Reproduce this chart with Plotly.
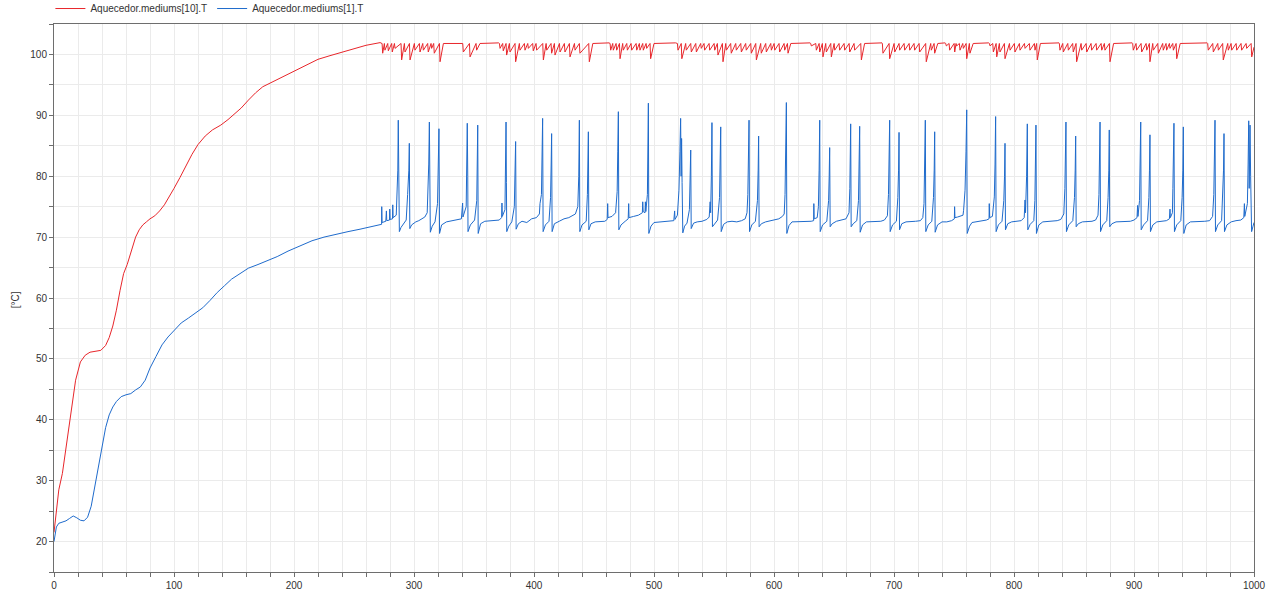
import plotly.graph_objects as go

# ---------------- data ----------------
# Warm-up phase (t in s, T in degC)
red_warm_t = [0, 2, 4, 7, 10, 14, 18, 22, 26, 30, 35, 39, 43, 46, 49, 52, 55, 58, 61, 65, 68, 71, 74, 77, 80, 84, 88, 92, 96, 100,
              105, 110, 115, 120, 126, 132, 139, 145, 150, 156, 162, 168, 174, 180, 186, 193, 200, 210, 220, 230, 240, 250, 260, 272]
red_warm_T = [21.5, 25.0, 28.5, 31.2, 35.5, 41.5, 46.5, 49.5, 50.6, 51.1, 51.3, 51.4, 52.2, 53.5, 55.4, 58.0, 61.2, 64.0, 65.5, 68.2,
              70.0, 71.2, 72.0, 72.5, 73.0, 73.5, 74.3, 75.3, 76.6, 78.0, 79.8, 81.8, 83.6, 85.2, 86.6, 87.6, 88.4, 89.3, 90.1, 91.2,
              92.5, 93.7, 94.7, 95.3, 95.9, 96.6, 97.3, 98.3, 99.2, 99.8, 100.4, 101.0, 101.5, 101.95]

blue_warm_t = [0, 1, 2, 4, 7, 10, 13, 16, 19, 22, 25, 28, 31, 34, 37, 40, 43, 46, 49, 52, 56, 60, 64, 68, 72, 76, 80, 85, 90, 95,
               100, 106, 112, 118, 124, 130, 136, 142, 148, 155, 162, 170, 178, 186, 195, 205, 215, 225, 235, 245, 255, 265, 272]
blue_warm_T = [20.0, 21.5, 22.4, 23.0, 23.2, 23.4, 23.8, 24.2, 23.9, 23.5, 23.4, 24.0, 25.8, 29.0, 32.5, 35.8, 38.7, 40.8, 42.1, 43.0,
               43.8, 44.1, 44.3, 44.9, 45.4, 46.5, 48.5, 50.4, 52.3, 53.6, 54.7, 55.9, 56.7, 57.6, 58.4, 59.6, 60.9, 62.0, 63.1, 64.0,
               64.9, 65.5, 66.1, 66.8, 67.7, 68.5, 69.4, 70.0, 70.5, 70.9, 71.3, 71.7, 72.0]

# Cycling phase, blue (mediums[1]) in blocks
blue_b1_t = [272.0, 273.0, 273.1, 273.4, 276.5, 277.0, 277.3, 279.6, 279.8, 280.1, 282.1, 282.3, 282.6, 285.2, 285.9, 286.5, 286.9, 287.2, 287.4, 287.8, 289.2, 291.0, 293.5, 294.7, 295.7, 296.1, 296.5, 298.0]
blue_b1_T = [72.0, 72.1, 75.0, 72.4, 72.6, 74.3, 72.7, 72.8, 74.6, 72.9, 73.0, 75.3, 73.2, 73.6, 76.5, 81.0, 89.2, 80.5, 84.0, 70.9, 71.6, 72.2, 72.8, 77.0, 81.0, 85.4, 71.4, 72.0]
blue_b2_t = [301.5, 304.0, 306.5, 309.0, 311.0, 311.6, 312.3, 312.8, 313.2, 313.6, 315.2, 317.5, 319.6, 320.3, 320.8, 321.3, 323.0]
blue_b2_T = [72.5, 72.7, 73.0, 73.3, 74.0, 76.5, 82.0, 88.9, 81.0, 70.8, 71.8, 72.5, 75.5, 81.0, 87.8, 70.6, 72.0]
blue_b3_t = [327.0, 332.0, 336.0, 339.5, 340.5, 340.8, 343.5, 344.0, 344.4, 344.8, 345.0, 347.0, 350.5, 352.3, 352.8, 353.1, 353.5, 355.5]
blue_b3_T = [72.5, 72.7, 72.8, 73.0, 75.6, 73.3, 75.0, 80.0, 88.7, 80.0, 70.9, 72.0, 72.8, 76.0, 82.0, 88.4, 70.6, 72.2]
blue_b4_t = [359.0, 363.0, 367.0, 371.0, 373.0, 373.3, 373.6, 375.8, 376.3, 376.7, 377.0, 377.3, 379.0, 381.5, 383.6, 384.2, 384.7, 385.1, 387.0]
blue_b4_T = [72.6, 72.7, 72.7, 72.8, 73.2, 75.6, 73.4, 74.5, 80.0, 88.9, 79.0, 70.9, 71.8, 72.5, 75.0, 80.0, 85.7, 71.3, 72.2]
blue_b5_t = [390.0, 394.0, 398.0, 402.0, 404.5, 405.0, 406.2, 406.8, 407.2, 407.6, 409.5, 412.5, 413.8, 414.3, 414.7, 415.1, 417.0]
blue_b5_T = [72.6, 72.4, 73.0, 73.2, 73.8, 75.5, 77.0, 83.0, 89.5, 70.9, 72.0, 72.6, 76.5, 82.0, 87.0, 70.9, 72.2]
blue_b6_t = [421.0, 425.0, 429.0, 432.0, 434.5, 436.5, 437.3, 437.8, 438.2, 440.0, 443.5, 444.5, 444.9, 445.3, 445.7, 447.5]
blue_b6_T = [72.6, 73.0, 73.2, 73.6, 73.8, 75.0, 80.0, 89.2, 70.9, 72.0, 72.6, 77.0, 82.0, 87.3, 71.2, 72.2]
blue_b7_t = [451.0, 455.0, 459.0, 461.0, 461.4, 461.7, 465.0, 468.0, 469.3, 469.8, 470.3, 470.7, 472.5, 476.0, 478.5, 478.9, 479.2, 483.0, 487.0, 490.3,
             490.6, 491.0, 492.5, 492.8, 493.2, 494.5, 495.0, 495.3, 495.7, 497.5, 500.0]
blue_b7_T = [72.5, 72.5, 72.6, 72.9, 75.5, 73.2, 73.4, 74.0, 77.5, 84.0, 90.6, 71.2, 72.0, 72.6, 73.0, 75.5, 73.2, 73.4, 73.6, 74.0,
             75.8, 74.2, 74.0, 75.8, 74.2, 77.0, 84.0, 92.0, 70.6, 71.8, 72.4]
blue_b8_t = [504.0, 508.0, 512.0, 516.5, 517.2, 517.5, 519.5, 520.8, 521.6, 522.2, 522.6, 523.0, 523.4, 524.0, 525.5, 527.5, 529.5, 530.1, 530.6, 531.0, 533.0]
blue_b8_T = [72.5, 72.6, 72.6, 72.7, 74.3, 72.9, 73.6, 77.7, 84.0, 89.5, 80.0, 86.2, 79.0, 70.7, 71.8, 72.3, 74.5, 79.0, 84.3, 71.4, 72.3]
blue_b9_t = [536.0, 540.0, 544.0, 546.0, 546.8, 547.2, 547.8, 548.3, 548.7, 550.5, 553.0, 554.6, 555.2, 555.6, 556.0, 558.0]
blue_b9_T = [72.5, 72.6, 72.9, 73.3, 75.8, 74.0, 80.0, 88.8, 71.7, 72.2, 72.8, 76.5, 82.0, 88.1, 70.9, 72.1]
blue_b10_t = [561.0, 565.0, 569.0, 573.0, 576.0, 577.5, 578.2, 578.8, 579.2, 579.6, 581.5, 584.5, 586.2, 586.8, 587.2, 587.6, 589.5]
blue_b10_T = [72.5, 72.6, 72.5, 72.7, 73.0, 74.0, 77.0, 83.0, 89.2, 70.9, 72.0, 72.6, 76.0, 81.0, 86.6, 71.7, 72.2]
blue_b11_t = [593.0, 597.0, 601.0, 604.0, 607.0, 608.5, 609.2, 609.8, 610.3, 610.7, 612.5, 615.0]
blue_b11_T = [72.5, 72.7, 72.8, 73.0, 73.4, 73.8, 77.0, 84.0, 92.1, 70.6, 71.9, 72.5]
blue_b12_t = [619.0, 623.0, 627.0, 631.0, 633.0, 633.2, 633.5, 636.0, 637.0, 637.6, 638.1, 638.5, 640.5, 644.0, 645.5, 646.0, 646.4, 646.8, 648.5]
blue_b12_T = [72.5, 72.5, 72.6, 72.6, 72.7, 75.5, 73.0, 73.2, 75.0, 81.0, 89.2, 70.9, 72.0, 72.6, 76.0, 80.0, 84.7, 71.7, 72.2]
blue_b13_t = [652.0, 656.0, 660.0, 662.5, 663.2, 663.9, 664.3, 666.0, 669.0, 670.4, 671.0, 671.4, 671.8, 673.8]
blue_b13_T = [72.6, 72.8, 73.0, 74.0, 78.0, 88.6, 71.7, 72.2, 72.7, 76.0, 81.0, 88.2, 70.8, 72.0]
blue_b14_t = [677.0, 681.0, 685.0, 689.0, 692.0, 694.5, 695.4, 695.9, 696.4, 696.8, 698.8, 702.0, 703.2, 703.8, 704.2, 704.6, 706.5]
blue_b14_T = [72.5, 72.5, 72.6, 72.6, 72.8, 73.5, 77.0, 83.0, 89.2, 70.9, 72.0, 72.6, 76.5, 81.0, 87.2, 71.2, 72.2]
blue_b15_t = [710.0, 714.0, 718.0, 722.0, 724.0, 725.0, 725.6, 726.1, 726.5, 728.5, 731.5, 732.9, 733.5, 733.9, 734.3, 736.3]
blue_b15_T = [72.5, 72.5, 72.6, 72.7, 73.2, 75.5, 82.0, 89.2, 70.9, 72.0, 72.6, 76.5, 81.0, 87.3, 70.8, 72.0]
blue_b16_t = [740.0, 744.0, 748.0, 750.3, 750.5, 750.8, 753.0, 755.0, 757.5, 758.0, 759.2, 760.0, 760.6, 761.0, 763.0, 765.0]
blue_b16_T = [72.5, 72.5, 72.7, 73.0, 75.0, 73.2, 73.3, 73.4, 73.6, 74.4, 77.7, 84.0, 90.9, 70.6, 71.8, 72.4]
blue_b17_t = [769.0, 773.0, 777.0, 779.2, 779.4, 779.7, 782.0, 783.6, 784.2, 784.7, 785.1, 787.0, 790.0, 791.5, 792.1, 792.5, 792.9, 794.8]
blue_b17_T = [72.5, 72.6, 72.8, 73.0, 75.5, 73.2, 73.4, 76.6, 82.0, 89.8, 70.9, 72.0, 72.6, 76.0, 80.0, 85.4, 71.2, 72.2]
blue_b18_t = [798.0, 802.0, 806.0, 808.5, 809.2, 809.6, 810.5, 811.1, 811.5, 813.5, 816.5, 817.4, 817.9, 818.3, 818.7, 820.7]
blue_b18_T = [72.5, 72.6, 72.7, 73.2, 76.1, 74.0, 80.0, 88.6, 71.2, 72.1, 72.7, 76.0, 82.0, 88.4, 70.6, 72.0]
blue_b19_t = [824.0, 828.0, 832.0, 836.0, 839.0, 841.5, 842.4, 842.9, 843.3, 843.7, 845.6, 849.0, 850.4, 851.0, 851.4, 851.8, 853.6]
blue_b19_T = [72.5, 72.6, 72.6, 72.7, 72.9, 73.8, 78.0, 83.0, 88.9, 70.9, 72.0, 72.7, 76.5, 81.0, 86.6, 71.7, 72.2]
blue_b20_t = [857.0, 861.0, 865.0, 868.0, 870.0, 870.8, 871.3, 871.7, 872.1, 874.0, 877.3, 878.4, 879.0, 879.4, 879.8, 881.6]
blue_b20_T = [72.5, 72.6, 72.6, 72.8, 73.6, 77.0, 83.0, 88.9, 70.9, 72.0, 72.7, 76.5, 81.0, 87.6, 71.7, 72.2]
blue_b21_t = [885.0, 889.0, 893.0, 897.0, 900.0, 902.5, 903.0, 903.3, 904.6, 905.1, 905.6, 906.0, 908.0, 911.3, 912.4, 912.9, 913.3, 913.7, 915.7]
blue_b21_T = [72.5, 72.5, 72.6, 72.6, 72.8, 73.2, 75.2, 73.4, 76.0, 82.0, 88.9, 71.2, 72.0, 72.7, 76.5, 81.0, 86.8, 70.9, 72.0]
blue_b22_t = [919.0, 923.0, 927.0, 929.5, 930.0, 930.3, 932.0, 932.4, 932.9, 933.3, 933.7, 935.6, 939.0, 940.1, 940.7, 941.1, 941.5, 943.5]
blue_b22_T = [72.5, 72.6, 72.7, 73.0, 74.6, 73.2, 74.0, 78.0, 83.0, 88.7, 70.9, 72.0, 72.7, 76.5, 81.0, 88.1, 70.6, 72.0]
blue_b23_t = [947.0, 951.0, 955.0, 959.0, 963.0, 965.5, 966.5, 967.0, 967.5, 967.9, 969.8, 973.0, 974.0, 974.6, 975.0, 975.4, 977.4]
blue_b23_T = [72.5, 72.5, 72.6, 72.6, 72.7, 73.4, 77.0, 83.0, 89.2, 70.9, 72.0, 72.7, 76.5, 81.0, 87.0, 70.9, 72.0]
blue_b24_t = [981.0, 985.0, 989.0, 991.5, 992.0, 992.3, 994.5, 995.1, 995.6, 996.0, 996.7, 997.2, 998.0, 999.2, 1000.0]
blue_b24_T = [72.5, 72.7, 72.8, 73.2, 75.5, 73.4, 75.5, 82.0, 89.1, 78.0, 88.4, 80.0, 70.9, 71.8, 72.4]

# Cycling phase, red (mediums[10]) in blocks
red_a_t = [272.0, 273.4, 273.9, 275.3, 275.8, 278.1, 278.6, 281.4, 281.9, 283.7, 284.2, 289.2, 289.7, 292.0, 292.5, 296.2, 296.7, 300.3, 300.8, 304.5,
           305.0, 307.3, 307.8, 311.4, 311.9, 314.2, 314.7, 316.4, 316.9, 321.2, 321.7]
red_a_T = [101.9, 101.8, 100.2, 101.8, 100.7, 101.8, 100.6, 101.8, 100.4, 101.8, 101.0, 101.8, 99.1, 101.8, 100.4, 101.8, 99.1, 101.8, 100.7, 101.8,
           100.4, 101.8, 100.7, 101.8, 100.4, 101.8, 101.0, 101.8, 100.2, 101.8, 98.8]
red_b_t = [324.5, 338.0, 340.6, 341.1, 346.2, 346.7, 351.7, 352.2, 355.0, 370.5]
red_b_T = [101.8, 101.9, 101.8, 100.4, 101.8, 99.6, 101.8, 100.7, 101.8, 101.9]
red_c_t = [371.2, 371.7, 373.9, 374.4, 376.7, 377.2, 379.5, 380.0, 384.2, 384.7, 387.8, 388.3, 392.0, 392.5, 394.8, 395.3, 398.9, 399.4, 401.7, 402.2,
           407.3, 407.8, 410.1, 410.6, 414.2, 414.7, 417.0, 417.5, 421.2, 421.7, 425.3, 425.8, 429.5, 430.0, 433.7, 434.2, 437.8, 438.3, 445.6, 446.1]
red_c_T = [101.8, 101.0, 101.8, 100.6, 101.8, 99.9, 101.8, 100.4, 101.8, 98.8, 101.8, 100.7, 101.8, 100.7, 101.8, 101.0, 101.8, 100.6, 101.8, 100.7,
           101.8, 99.1, 101.8, 100.7, 101.8, 100.2, 101.8, 99.9, 101.8, 100.4, 101.8, 100.4, 101.8, 99.6, 101.8, 100.7, 101.8, 100.2, 101.8, 98.8]
red_d_t = [449.0, 462.5, 463.4, 463.9, 465.6, 466.1, 468.4, 468.9, 471.2, 471.7, 473.9, 474.4, 477.3, 477.8, 480.9, 481.4, 485.1, 485.6, 487.8, 488.3,
           490.6, 491.1, 493.4, 493.9, 496.7, 497.2]
red_d_T = [101.8, 101.9, 101.8, 100.7, 101.8, 100.7, 101.8, 100.7, 101.8, 99.3, 101.8, 100.7, 101.8, 100.7, 101.8, 100.7, 101.8, 100.7, 101.8, 100.7,
           101.8, 100.7, 101.8, 101.0, 101.8, 99.3]
red_e_t = [500.0, 518.0, 519.5, 520.0, 522.7, 523.2, 526.4, 526.9, 530.6, 531.1, 534.8, 535.3, 538.9, 539.4, 541.7, 542.2, 545.9, 546.4, 550.1, 550.6,
           552.8, 553.3, 557.0, 557.5, 559.8, 560.3, 563.9, 564.4, 568.1, 568.6, 572.3, 572.8, 576.4, 576.9, 580.6, 581.1, 584.8, 585.3, 588.9, 589.4,
           593.1, 593.6, 597.3, 597.8, 600.1, 600.6, 604.2, 604.7, 608.4, 608.9, 611.2, 611.7]
red_e_T = [101.8, 101.9, 101.8, 100.7, 101.8, 99.3, 101.8, 100.7, 101.8, 100.4, 101.8, 100.4, 101.8, 101.0, 101.8, 100.7, 101.8, 100.7, 101.8, 100.7,
           101.8, 99.9, 101.8, 98.8, 101.8, 100.7, 101.8, 100.2, 101.8, 100.7, 101.8, 100.4, 101.8, 100.7, 101.8, 100.2, 101.8, 99.1, 101.8, 100.2,
           101.8, 100.4, 101.8, 100.7, 101.8, 100.7, 101.8, 100.4, 101.8, 100.7, 101.8, 100.2]
red_f_t = [614.0, 630.0, 630.6, 631.1, 634.8, 635.3, 637.6, 638.1, 640.3, 640.8, 643.1, 643.6, 647.3, 647.8, 650.1, 650.6, 654.2, 654.7, 658.4, 658.9,
           662.6, 663.1, 666.7, 667.2, 672.3, 672.8]
red_f_T = [101.8, 101.9, 101.8, 101.4, 101.8, 100.7, 101.8, 100.4, 101.8, 99.6, 101.8, 100.4, 101.8, 99.6, 101.8, 100.7, 101.8, 100.7, 101.8, 100.7,
           101.8, 100.4, 101.8, 100.7, 101.8, 99.1]
red_g_t = [675.5, 690.0, 690.3, 690.8, 695.9, 696.4, 700.1, 700.6, 704.2, 704.7, 708.4, 708.9, 712.6, 713.1, 716.7, 717.2, 720.9, 721.4, 726.4, 726.9,
           730.6, 731.1, 733.4, 733.9]
red_g_T = [101.8, 101.9, 101.8, 100.2, 101.8, 99.3, 101.8, 100.4, 101.8, 100.7, 101.8, 100.7, 101.8, 100.7, 101.8, 100.7, 101.8, 100.4, 101.8, 98.8,
           101.8, 100.7, 101.8, 100.2]
red_h_t = [736.5, 742.5, 743.1, 743.6, 745.9, 746.4, 750.1, 750.6, 751.7, 752.2, 754.5, 755.0, 757.3, 757.8, 760.1, 760.6, 762.8, 763.3]
red_h_T = [101.8, 101.9, 101.8, 101.4, 101.8, 100.7, 101.8, 100.4, 101.8, 101.4, 101.8, 100.7, 101.8, 101.0, 101.8, 99.3, 101.8, 100.2]
red_i_t = [766.0, 779.0, 779.5, 780.0, 782.3, 782.8, 785.1, 785.6, 787.8, 788.3, 792.0, 792.5, 796.2, 796.7, 800.3, 800.8, 804.5, 805.0, 808.7, 809.2,
           812.8, 813.3, 817.0, 817.5, 818.9, 819.4]
red_i_T = [101.8, 101.9, 101.8, 101.4, 101.8, 100.4, 101.8, 99.6, 101.8, 100.4, 101.8, 99.3, 101.8, 100.7, 101.8, 100.4, 101.8, 100.7, 101.8, 101.0,
           101.8, 100.7, 101.8, 100.7, 101.8, 99.1]
red_j_t = [822.0, 837.5, 837.8, 838.3, 840.6, 841.1, 844.8, 845.3, 848.9, 849.4, 851.7, 852.2, 855.9, 856.4, 860.1, 860.6, 864.2, 864.7, 868.4, 868.9,
           872.6, 873.1, 875.3, 875.8, 879.5, 880.0]
red_j_T = [101.8, 101.9, 101.8, 100.7, 101.8, 100.4, 101.8, 100.7, 101.8, 100.4, 101.8, 98.8, 101.8, 100.7, 101.8, 100.4, 101.8, 100.7, 101.8, 100.7,
           101.8, 100.7, 101.8, 100.7, 101.8, 98.8]
red_k_t = [883.0, 898.5, 898.9, 899.4, 901.7, 902.2, 905.9, 906.4, 910.1, 910.6, 912.8, 913.3, 915.6, 916.1, 919.8, 920.3, 923.9, 924.4, 926.7, 927.2,
           929.5, 930.0, 932.3, 932.8, 935.1, 935.6]
red_k_T = [101.8, 101.9, 101.8, 100.7, 101.8, 100.7, 101.8, 100.4, 101.8, 100.7, 101.8, 98.8, 101.8, 100.7, 101.8, 100.2, 101.8, 100.7, 101.8, 100.7,
           101.8, 101.0, 101.8, 100.7, 101.8, 99.3]
red_l_t = [938.5, 961.0, 961.4, 961.9, 965.6, 966.1, 969.8, 970.3, 973.9, 974.4, 978.1, 978.6, 980.9, 981.4, 985.1, 985.6, 989.2, 989.7, 993.4, 993.9,
           997.6, 998.1, 1000.0]
red_l_T = [101.8, 101.9, 101.8, 100.7, 101.8, 100.4, 101.8, 100.7, 101.8, 99.1, 101.8, 100.7, 101.8, 100.7, 101.8, 100.7, 101.8, 100.7, 101.8, 101.0,
           101.8, 99.6, 101.2]

series_names = ["Aquecedor.mediums[10].T", "Aquecedor.mediums[1].T"]
x_tick_vals = [0, 100, 200, 300, 400, 500, 600, 700, 800, 900, 1000]
y_tick_vals = [20, 30, 40, 50, 60, 70, 80, 90, 100]
y_label = "[°C]"

# ---------------- assemble ----------------
def join(blocks):
    out_t, out_T = [], []
    for t, T in blocks:
        assert len(t) == len(T), (len(t), len(T), t[0])
        out_t += t
        out_T += T
    return out_t, out_T

red_t, red_T = join([(red_warm_t, red_warm_T), (red_a_t, red_a_T), (red_b_t, red_b_T), (red_c_t, red_c_T),
                     (red_d_t, red_d_T), (red_e_t, red_e_T), (red_f_t, red_f_T), (red_g_t, red_g_T),
                     (red_h_t, red_h_T), (red_i_t, red_i_T), (red_j_t, red_j_T), (red_k_t, red_k_T),
                     (red_l_t, red_l_T)])
blue_t, blue_T = join([(blue_warm_t, blue_warm_T), (blue_b1_t, blue_b1_T), (blue_b2_t, blue_b2_T), (blue_b3_t, blue_b3_T),
                       (blue_b4_t, blue_b4_T), (blue_b5_t, blue_b5_T), (blue_b6_t, blue_b6_T), (blue_b7_t, blue_b7_T),
                       (blue_b8_t, blue_b8_T), (blue_b9_t, blue_b9_T), (blue_b10_t, blue_b10_T), (blue_b11_t, blue_b11_T),
                       (blue_b12_t, blue_b12_T), (blue_b13_t, blue_b13_T), (blue_b14_t, blue_b14_T), (blue_b15_t, blue_b15_T),
                       (blue_b16_t, blue_b16_T), (blue_b17_t, blue_b17_T), (blue_b18_t, blue_b18_T), (blue_b19_t, blue_b19_T),
                       (blue_b20_t, blue_b20_T), (blue_b21_t, blue_b21_T), (blue_b22_t, blue_b22_T), (blue_b23_t, blue_b23_T),
                       (blue_b24_t, blue_b24_T)])

RED = "#e8262b"
BLUE = "#1f6bcc"
FONT = "Liberation Sans, Arial, sans-serif"

fig = go.Figure()
fig.add_trace(go.Scatter(x=red_t, y=red_T, mode="lines", name=series_names[0],
                         line=dict(color=RED, width=1)))
fig.add_trace(go.Scatter(x=blue_t, y=blue_T, mode="lines", name=series_names[1],
                         line=dict(color=BLUE, width=1)))

axis_common = dict(showline=True, linecolor="#6e6e6e", linewidth=1, mirror=True,
                   ticks="outside", ticklen=4, tickcolor="#6e6e6e", zeroline=False,
                   showgrid=True, gridcolor="#ebebeb", gridwidth=1, automargin=False,
                   tickfont=dict(family=FONT, size=10, color="#333333"))

fig.update_xaxes(range=[0, 1000], tickvals=x_tick_vals,
                 minor=dict(dtick=20, ticks="outside", ticklen=4, tickcolor="#6e6e6e",
                            showgrid=True, gridcolor="#ebebeb"),
                 **axis_common)
fig.update_yaxes(range=[15, 105], tickvals=y_tick_vals,
                 minor=dict(dtick=5, ticks="outside", ticklen=4, tickcolor="#6e6e6e",
                            showgrid=True, gridcolor="#ebebeb"),
                 **axis_common)

fig.update_layout(
    width=1273, height=596,
    margin=dict(l=54, r=19, t=24, b=24, autoexpand=False),
    paper_bgcolor="white", plot_bgcolor="white",
    font=dict(family=FONT, size=10, color="#333333"),
    showlegend=True,
    legend=dict(orientation="h", x=-0.003, xanchor="left", y=1.0547, yanchor="top",
                yref="paper",
                font=dict(family=FONT, size=10, color="#333333"),
                bgcolor="rgba(0,0,0,0)", borderwidth=0),
    annotations=[dict(text=y_label, xref="paper", yref="paper", x=-0.0325, y=0.496,
                      xanchor="center", yanchor="middle",
                      textangle=-90, showarrow=False,
                      font=dict(family=FONT, size=10, color="#333333"))],
)

fig.write_html("out.html", config={"displayModeBar": False},
               post_script="document.body.style.margin='0';document.body.style.padding='0';")
